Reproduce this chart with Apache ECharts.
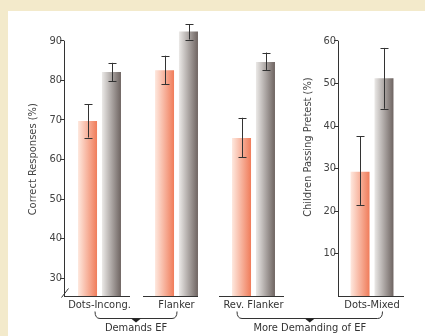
<!DOCTYPE html>
<html>
<head>
<meta charset="utf-8">
<script src="https://cdn.jsdelivr.net/npm/echarts@6/dist/echarts.min.js"></script>
<style>
  html, body { margin: 0; padding: 0; background: #f3eacb; }
  #panel { position: absolute; left: 8px; top: 11px; right: 0; bottom: 0; background: #fff; }
  #chart { position: absolute; left: 0; top: 0; width: 425px; height: 336px; }
</style>
</head>
<body>
<div id="panel"></div>
<div id="chart"></div>
<script>
// data
const leftCategories = ['Dots-Incong.', 'Flanker', 'Rev. Flanker']
const rightCategories = ['Dots-Mixed']

const orangeLeft = [69.7, 82.5, 65.4]
const orangeLeftLow = [65.5, 79.0, 60.5]
const orangeLeftHigh = [73.9, 86.2, 70.5]
const greyLeft = [82.1, 92.3, 84.6]
const greyLeftLow = [79.7, 90.3, 82.6]
const greyLeftHigh = [84.4, 94.2, 87.0]

const orangeRight = [29.2]
const orangeRightLow = [21.4]
const orangeRightHigh = [37.6]
const greyRight = [51.2]
const greyRightLow = [44.0]
const greyRightHigh = [58.3]

// axis ranges
const leftMin = 25.4
const leftMax = 90
const leftRoom = 100 // bars above 90 still need room in the grid
const leftTickMin = 30
const rightMin = 0
const rightMax = 60
const rightTickMin = 10
const tickStep = 10

const FONT = '"Liberation Sans Narrow", "DejaVu Sans Condensed", "Roboto", sans-serif'
const INK = '#333'
const SIZE = 11

const chart = echarts.init(document.getElementById('chart'))

const orangeFill = new echarts.graphic.LinearGradient(0, 0, 1, 0, [
  { offset: 0, color: '#fee8de' },
  { offset: 1, color: '#f07c5a' }
])
const greyFill = new echarts.graphic.LinearGradient(0, 0, 1, 0, [
  { offset: 0, color: '#ebe9e7' },
  { offset: 1, color: '#6e6461' }
])

const px = v => Math.round(v) + 0.5
const pxPerUnit = (296 - 40.7) / (leftMax - leftMin)

function errorRender(shift) {
  return function (params, api) {
    const lo = api.coord([api.value(0), api.value(1)])
    const hi = api.coord([api.value(0), api.value(2)])
    const cx = px(lo[0] + shift)
    const cap = 4
    const st = { stroke: INK, lineWidth: 1 }
    return {
      type: 'group',
      children: [
        { type: 'line', shape: { x1: cx, y1: lo[1], x2: cx, y2: hi[1] }, style: st },
        { type: 'line', shape: { x1: cx - cap, y1: px(lo[1]), x2: cx + cap, y2: px(lo[1]) }, style: st },
        { type: 'line', shape: { x1: cx - cap, y1: px(hi[1]), x2: cx + cap, y2: px(hi[1]) }, style: st }
      ]
    }
  }
}

// baseline pieces under each group (left/right offsets from the category centre)
// first piece also carries the y axis line and the break mark
function baseRender(segs, topValue, withBreak) {
  return function (params, api) {
    const p = api.coord([api.value(0), api.value(1)])
    const s = segs[params.dataIndex]
    const y = px(p[1])
    const st = { stroke: INK, lineWidth: 1 }
    const children = [
      { type: 'line', shape: { x1: p[0] + s[0], y1: y, x2: p[0] + s[1], y2: y }, style: st }
    ]
    if (params.dataIndex === 0) {
      const ax = px(p[0] + s[0])
      const top = api.coord([api.value(0), topValue])[1]
      children.push({ type: 'line', shape: { x1: ax, y1: y, x2: ax, y2: top }, style: st })
      if (withBreak) {
        children.push({ type: 'line', shape: { x1: ax - 3, y1: y + 1, x2: ax + 4, y2: y - 8 }, style: st })
      }
    }
    return { type: 'group', children }
  }
}

const tickLabel = { color: '#444', fontSize: SIZE, fontFamily: FONT, margin: 2 }
const nameStyle = { color: '#444', fontSize: SIZE, fontFamily: FONT }
const catLabel = { color: INK, fontSize: SIZE, fontFamily: FONT, margin: 4, interval: 0, hideOverlap: false }

const option = {
  animation: false,
  grid: [
    { left: 61, right: 133, top: 40.7 - (leftRoom - leftMax) * pxPerUnit, bottom: 40 },
    { left: 61, right: 133, top: 40.7, bottom: 58.2 },
    { left: 338, right: 19, top: 40.7, bottom: 40 },
    { left: 338, right: 19, top: 40.7, bottom: 82.55 }
  ],
  xAxis: [
    {
      type: 'category', gridIndex: 0, data: leftCategories,
      axisLine: { show: false }, axisTick: { show: false }, axisLabel: catLabel
    },
    { type: 'category', gridIndex: 1, data: leftCategories, show: false },
    {
      type: 'category', gridIndex: 2, data: rightCategories,
      axisLine: { show: false }, axisTick: { show: false }, axisLabel: catLabel
    },
    { type: 'category', gridIndex: 3, data: rightCategories, show: false }
  ],
  yAxis: [
    {
      type: 'value', gridIndex: 0, min: leftMin, max: leftRoom,
      axisLine: { show: false }, axisTick: { show: false }, axisLabel: { show: false }, splitLine: { show: false }
    },
    {
      type: 'value', gridIndex: 1, min: leftTickMin, max: leftMax, interval: tickStep, offset: -3,
      axisLine: { show: false },
      axisTick: { show: true, length: 4, lineStyle: { color: INK } },
      axisLabel: tickLabel, splitLine: { show: false },
      name: 'Correct Responses (%)', nameLocation: 'middle', nameGap: 22, nameTextStyle: nameStyle
    },
    {
      type: 'value', gridIndex: 2, min: rightMin, max: rightMax,
      axisLine: { show: false }, axisTick: { show: false }, axisLabel: { show: false }, splitLine: { show: false }
    },
    {
      type: 'value', gridIndex: 3, min: rightTickMin, max: rightMax, interval: tickStep,
      axisLine: { show: false },
      axisTick: { show: true, length: 4, lineStyle: { color: INK } },
      axisLabel: tickLabel, splitLine: { show: false },
      name: 'Children Passing Pretest (%)', nameLocation: 'middle', nameGap: 24, nameTextStyle: nameStyle
    }
  ],
  series: [
    { type: 'bar', xAxisIndex: 0, yAxisIndex: 0, data: orangeLeft, barWidth: 19, barGap: '26%', itemStyle: { color: orangeFill } },
    { type: 'bar', xAxisIndex: 0, yAxisIndex: 0, data: greyLeft, barWidth: 19, barGap: '26%', itemStyle: { color: greyFill } },
    { type: 'bar', xAxisIndex: 2, yAxisIndex: 2, data: orangeRight, barWidth: 19, barGap: '26%', itemStyle: { color: orangeFill } },
    { type: 'bar', xAxisIndex: 2, yAxisIndex: 2, data: greyRight, barWidth: 19, barGap: '26%', itemStyle: { color: greyFill } },
    {
      type: 'custom', xAxisIndex: 0, yAxisIndex: 0, clip: false, z: 5,
      renderItem: errorRender(-12), encode: { x: 0, y: [1, 2] },
      data: orangeLeft.map((v, i) => [i, orangeLeftLow[i], orangeLeftHigh[i]])
    },
    {
      type: 'custom', xAxisIndex: 0, yAxisIndex: 0, clip: false, z: 5,
      renderItem: errorRender(12), encode: { x: 0, y: [1, 2] },
      data: greyLeft.map((v, i) => [i, greyLeftLow[i], greyLeftHigh[i]])
    },
    {
      type: 'custom', xAxisIndex: 2, yAxisIndex: 2, clip: false, z: 5,
      renderItem: errorRender(-12), encode: { x: 0, y: [1, 2] },
      data: orangeRight.map((v, i) => [i, orangeRightLow[i], orangeRightHigh[i]])
    },
    {
      type: 'custom', xAxisIndex: 2, yAxisIndex: 2, clip: false, z: 5,
      renderItem: errorRender(12), encode: { x: 0, y: [1, 2] },
      data: greyRight.map((v, i) => [i, greyRightLow[i], greyRightHigh[i]])
    },
    {
      type: 'custom', xAxisIndex: 0, yAxisIndex: 0, clip: false, z: 6,
      renderItem: baseRender([[-35.5, 30.5], [-33.5, 21.5], [-34.5, 30.5]], leftMax, true),
      encode: { x: 0, y: 1 },
      data: leftCategories.map((c, i) => [i, leftMin])
    },
    {
      type: 'custom', xAxisIndex: 2, yAxisIndex: 2, clip: false, z: 6,
      renderItem: baseRender([[-34, 32]], rightMax, false),
      encode: { x: 0, y: 1 },
      data: rightCategories.map((c, i) => [i, rightMin])
    }
  ]
}

chart.setOption(option)

// group brackets under the category labels
function bracket(x1, x2, label) {
  const yTop = 311.5
  const yLine = 318.5
  const mid = (x1 + x2) / 2
  const st = { stroke: INK, lineWidth: 1, fill: null }
  return [
    { type: 'bezierCurve', shape: { x1: x1, y1: yTop, cpx1: x1, cpy1: yLine, x2: x1 + 5, y2: yLine }, style: st },
    { type: 'line', shape: { x1: x1 + 5, y1: yLine, x2: x2 - 5, y2: yLine }, style: st },
    { type: 'bezierCurve', shape: { x1: x2 - 5, y1: yLine, cpx1: x2, cpy1: yLine, x2: x2, y2: yTop }, style: st },
    {
      type: 'polygon',
      shape: { points: [[mid - 5, yLine], [mid + 5, yLine], [mid, yLine + 4]] },
      style: { fill: '#222' }
    },
    {
      type: 'text',
      style: { text: label, x: mid, y: 328.5, align: 'center', verticalAlign: 'middle', fill: INK, fontSize: SIZE, fontFamily: FONT }
    }
  ]
}

const c0 = chart.convertToPixel({ xAxisIndex: 0 }, leftCategories[0])
const c1 = chart.convertToPixel({ xAxisIndex: 0 }, leftCategories[1])
const c2 = chart.convertToPixel({ xAxisIndex: 0 }, leftCategories[2])
const c3 = chart.convertToPixel({ xAxisIndex: 2 }, rightCategories[0])

chart.setOption({
  graphic: [
    ...bracket(c0 - 4.5, c1 + 0.5, 'Demands EF'),
    ...bracket(c2 - 16.5, c3 + 10.5, 'More Demanding of EF')
  ]
})
</script>
</body>
</html>
